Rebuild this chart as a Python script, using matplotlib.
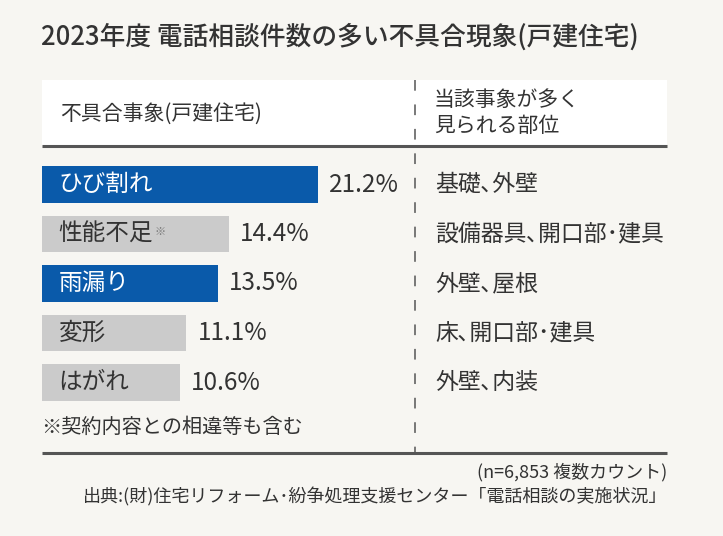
import matplotlib
matplotlib.use("Agg")
import matplotlib.pyplot as plt
from matplotlib.transforms import blended_transform_factory

plt.rcParams['font.family'] = ['Noto Sans CJK JP', 'DejaVu Sans']

# half-width punctuation (､ ･ ( ) :) keeps the tight spacing of the original
title = '2023年度 電話相談件数の多い不具合現象(戸建住宅)'
col_left = '不具合事象(戸建住宅)'
col_right = '当該事象が多く\n見られる部位'
categories = ['ひび割れ', '性能不足', '雨漏り', '変形', 'はがれ']
shares = [21.2, 14.4, 13.5, 11.1, 10.6]
highlight = [True, False, True, False, False]
parts = ['基礎､外壁', '設備器具､開口部･建具', '外壁､屋根', '床､開口部･建具', '外壁､内装']
footnote = '※契約内容との相違等も含む'
sample_note = '(n=6,853 複数カウント)'
source = '出典:(財)住宅リフォーム･紛争処理支援センター「電話相談の実施状況」'

W, H = 723, 536
BG = '#f7f6f2'
BLUE = '#0a5aaa'
GREY = '#cbcbcb'
INK = '#333333'
RULE = '#555555'

fig = plt.figure(figsize=(W / 100, H / 100), dpi=100, facecolor=BG)

# pixel overlay for the frame and loose text
px = fig.add_axes([0, 0, 1, 1], zorder=0)
px.set_xlim(0, W)
px.set_ylim(H, 0)
px.axis('off')

px.text(41, 37, title, fontsize=18.5, color=INK, va='center', ha='left', weight='medium')
px.add_patch(plt.Rectangle((42, 80), 625, 66, facecolor='white', edgecolor='none'))
px.text(60, 114, col_left, fontsize=15, color=INK, va='center')
px.text(434, 113, col_right, fontsize=15, color=INK, va='center', linespacing=1.2)
px.plot([42, 667], [146, 146], color=RULE, lw=2.2, solid_capstyle='butt')
px.plot([42, 667], [453, 453], color=RULE, lw=2.2, solid_capstyle='butt')
px.plot([415, 415], [80, 453], color=RULE, lw=1.1, dashes=(7, 9))
px.text(41, 427, footnote, fontsize=14.5, color=INK, va='center')
px.text(667, 472, sample_note, fontsize=13, color=INK, va='center', ha='right')
px.text(667, 497, source, fontsize=13, color=INK, va='center', ha='right')

# bar area: 13 px per percent, rows ~49.5 px apart
left, right, top, bottom = 42, 667, 159.75, 407.25
ax = fig.add_axes([left / W, 1 - bottom / H, (right - left) / W, (bottom - top) / H], zorder=1)
ax.set_xlim(0, (right - left) / 13.0)
ax.set_ylim(len(categories) - 0.5, -0.5)
ax.axis('off')
ax.patch.set_alpha(0)

colors = [BLUE if h else GREY for h in highlight]
ypos = list(range(len(categories)))
ax.barh(ypos, shares, height=0.73, color=colors, left=0)

row_tr = blended_transform_factory(ax.transAxes, ax.transData)
for i, (name, val, hl, part) in enumerate(zip(categories, shares, highlight, parts)):
    t = ax.annotate(name, xy=(0, i), xytext=(12, 0), textcoords='offset points',
                    va='center', ha='left', fontsize=17, color='white' if hl else INK)
    if name == '性能不足':
        ax.annotate('※', xy=(1, 1), xycoords=t, xytext=(1, -3), textcoords='offset points',
                    va='top', ha='left', fontsize=8, color='#777777')
    ax.annotate(f'{val}%', xy=(val, i), xytext=(8, 0), textcoords='offset points',
                va='center', ha='left', fontsize=17.5, color=INK)
    ax.text((435 - left) / (right - left), i, part, transform=row_tr,
            va='center', ha='left', fontsize=16.5, color=INK)

fig.savefig('out.png', dpi=100, facecolor=BG)
